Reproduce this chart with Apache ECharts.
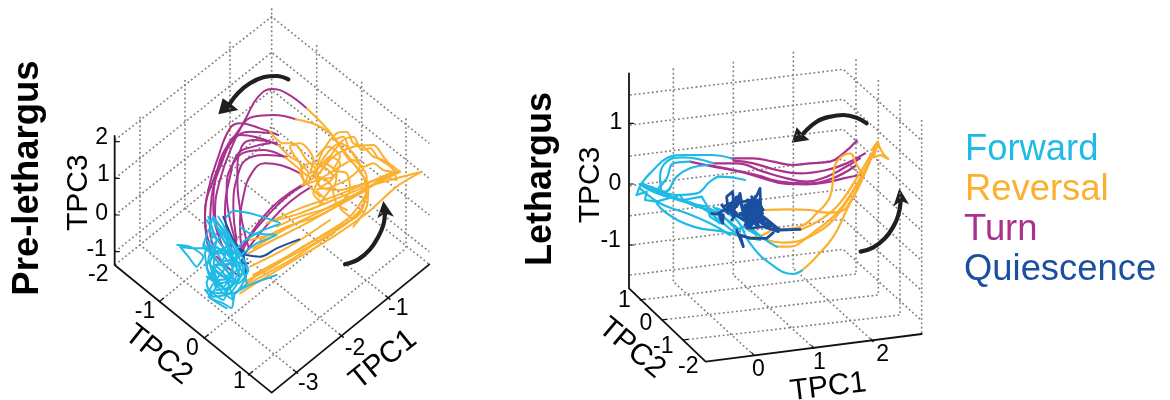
<!DOCTYPE html>
<html><head><meta charset="utf-8">
<style>html,body{margin:0;padding:0;background:#fff}#c{width:1170px;height:400px}</style>
<script src="https://cdn.jsdelivr.net/npm/echarts@6/dist/echarts.min.js"></script>
</head><body><div id="c"></div>
<script>
const FORWARD='#1fbbe6',REVERSAL='#fbb02f',TURN='#a9328e',QUIESCENCE='#1b4fa0',INK='#1f1f1f',GRIDC='#7d7d7d';

// ---------- Pre-lethargus panel: values ----------
const preAxes=[[[344,408],[344,795],[815,1178],[1288,793]]];
const preTicks=[[[344,425],[358,425]],[[344,535],[358,535]],[[344,645],[358,645]],[[344,755],[358,755]],
 [[478,905],[490,895]],[[612,1015],[624,1005]],[[745,1125],[757,1115]],
 [[1170,898],[1158,888]],[[1030,1012],[1018,1002]],[[893,1120],[881,1110]]];
const preGrid=[
 [[345,420],[815,50],[1288,430]],[[345,535],[815,157],[1288,535]],[[345,645],[815,270],[1288,645]],
 [[345,755],[815,380],[1288,755]],[[345,795],[815,415],[1288,793]],
 [[420,350],[420,735]],[[555,240],[555,625]],[[690,125],[690,515]],[[815,25],[815,415]],
 [[950,135],[950,520]],[[1085,245],[1085,630]],[[1218,355],[1218,745]],
 [[478,905],[950,520]],[[612,1015],[1085,630]],[[745,1125],[1218,745]],
 [[1170,898],[690,515]],[[1030,1012],[555,625]],[[893,1120],[420,735]]];
const preTurn=[
 [[920,325],[860,280],[815,267],[775,290],[740,350],[700,430],[660,540],[645,640],[660,710]],
 [[888,358],[820,345],[760,350],[720,385],[680,450],[640,540],[615,640],[620,720],[640,770]],
 [[835,405],[780,385],[720,370],[690,385],[655,470],[625,570],[615,660],[635,750]],
 [[835,435],[770,412],[720,405],[680,440],[650,520],[640,620],[660,720],[690,770]],
 [[855,472],[790,450],[740,455],[700,490],[680,560],[690,660],[720,760]],
 [[900,520],[840,495],[795,490],[755,520],[730,590],[720,680],[725,750]],
 [[830,430],[760,420],[725,440],[712,520],[722,640],[745,740]],
 [[815,400],[750,395],[700,420],[665,490],[635,590],[630,690],[650,760]],
 [[810,430],[760,440],[715,460],[690,530],[675,640],[695,740]],
 [[860,470],[800,465],[745,475],[715,520],[700,620],[710,720]],
 [[920,550],[860,590],[800,650],[750,710],[725,760]],
 [[935,560],[870,605],[810,665],[760,725],[730,770]],
 [[905,555],[840,600],[790,650],[740,720],[720,750]],
 [[650,770],[680,800],[720,830]]];
const preReversal=[
 [[920,325],[980,385],[1030,450],[1075,510],[1105,560],[1100,620],[1060,680]],
 [[888,358],[950,375],[1000,410],[1040,470],[1085,520],[1100,580],[1075,640],[1020,680]],
 [[950,500],[970,450],[1010,400],[1040,395],[1060,430],[1090,440],[1120,470],[1150,480],[1200,515]],
 [[950,530],[1000,470],[1060,440],[1120,435],[1150,470],[1180,510],[1190,540],[1160,535],[1110,560]],
 [[960,520],[990,470],[1030,420],[1060,410],[1085,450],[1110,445],[1135,475],[1165,495],[1195,520]],
 [[810,395],[850,430],[880,430],[920,480],[950,510],[960,560],[1000,530],[970,500],[930,490],[900,520],[930,560],[960,590]],
 [[835,435],[870,470],[900,490],[915,550],[950,530],[990,550],[1010,610],[1040,630]],
 [[855,472],[890,500],[930,530],[970,490],[1010,520],[1000,560],[950,570],[980,600]],
 [[915,550],[925,520],[900,490],[870,440],[900,430],[940,480],[930,520],[960,500],[990,470],[1020,490],[1000,530],[960,540],[940,580],[970,610]],
 [[905,555],[940,545],[980,525],[1020,500],[1060,480],[1090,500],[1120,490],[1150,510],[1175,515]],
 [[960,610],[1000,560],[1040,540],[1080,500],[1060,460],[1020,430],[990,450],[960,490]],
 [[1000,420],[1030,410],[1045,440],[1070,480],[1100,530],[1098,590],[1070,650]],
 [[950,470],[985,440],[1020,470],[1000,510],[1040,520],[1050,570],[1020,620],[1050,650]],
 [[1200,515],[1170,520],[1110,545],[1060,560],[1020,570],[960,560],[945,520]],
 [[830,660],[900,640],[1000,600],[1100,560],[1265,515]],
 [[760,745],[850,690],[950,640],[1050,590],[1150,540],[1200,515]],
 [[745,760],[820,720],[900,680],[1000,625],[1100,570]],
 [[720,880],[800,830],[900,770],[1000,710],[1100,640],[1190,560],[1265,515]],
 [[735,845],[820,800],[900,745],[1000,690],[1080,640],[1100,560]],
 [[760,825],[860,770],[960,710],[1050,650],[1100,580]],
 [[800,670],[900,625],[1000,590],[1090,555],[1200,515]],
 [[830,680],[900,650],[980,625],[1060,590],[1130,550],[1200,515]],
 [[720,870],[790,810],[870,770],[960,720],[1040,670],[1090,620]],
 [[730,860],[810,815],[880,775],[940,735],[1000,700]],
 [[750,800],[830,760],[900,720],[990,660]],
 [[780,720],[860,680],[950,650],[1040,600]],
 [[750,720],[830,700]]];
const preQuiescence=[
 [[740,765],[780,770],[830,745],[898,718]],
 [[670,650],[700,720],[730,770],[738,830]],
 [[715,745],[735,760],[725,785],[745,790]]];
const preForward=[
 [[532,735],[570,740],[610,770],[590,800],[565,770],[540,740],[580,745],[625,745],[660,710]],
 [[625,650],[640,700],[615,760],[625,820],[650,860],[625,890],[670,910],[695,925],[705,880],[740,850],[720,780],[700,740],[660,680],[640,650],[630,690],[660,730],[700,780],[735,800],[700,850],[650,800],[620,850],[640,890],[690,880],[720,830],[680,760],[640,740],[625,780],[670,830],[710,810],[680,720],[650,680]],
 [[680,650],[700,632],[750,640],[800,655],[840,670],[790,690],[730,725],[700,760]],
 [[720,680],[750,700],[830,705],[770,730],[730,760],[690,790],[640,800],[660,850],[700,840]],
 [[700,880],[760,850],[830,825]],
 [[610,730],[650,780],[690,830],[670,900],[630,870],[680,800],[720,760],[660,760],[620,720]],
 [[640,660],[670,720],[710,770],[700,800],[650,740],[640,830],[680,870],[730,820]],
 [[620,660],[650,720],[630,790],[660,870],[700,900],[680,840],[640,800],[690,780],[735,830],[705,880],[660,880],[615,870],[640,900],[680,925]],
 [[640,655],[680,700],[720,760],[745,810],[715,850],[680,810],[650,760],[620,800],[650,840],[700,830],[690,760],[660,700]],
 [[655,650],[690,720],[660,790],[630,760],[670,750],[720,800],[690,860],[650,870],[640,820],[680,880]],
 [[625,690],[610,740],[640,760],[680,740],[700,790],[670,860],[620,830]]];
const preArrows=[[[865,238],[830,228],[790,232],[750,250],[715,278],[690,310]],[[1035,793],[1075,778],[1110,748],[1135,710],[1150,675],[1155,640]]];
const preHeads=[[[655,343],[668,295],[693,312],[715,330]],[[1150,603],[1182,650],[1155,640],[1132,655]]];
const preTexts=[
 ['2',305,412,23,0],['1',310,525,23,0],['0',305,640,23,0],['-1',290,750,23,0],['-2',295,825,23,0],
 ['-1',435,935,23,0],['0',577,1045,23,0],['1',718,1145,23,0],
 ['-1',1195,925,23,0],['-2',1065,1045,23,0],['-3',925,1150,23,0],
 ['TPC3',235,578,30,90],['TPC2',475,1065,30,-39],['TPC1',1150,1080,30,39]];

// ---------- Lethargus panel ----------
const letAxes=[[[357,70],[357,715],[587,935],[1235,852]]];
const letTicks=[[[357,220],[371,220]],[[357,402],[371,402]],[[357,585],[371,585]],
 [[390,750],[404,747]],[[455,810],[469,808]],[[520,870],[534,868]],
 [[732,916],[725,908]],[[912,895],[905,887]],[[1090,875],[1083,867]]];
const letGrid=[
 [[360,135],[1000,58],[1235,272]],[[360,225],[1000,148],[1235,362]],[[360,318],[1000,238],[1235,452]],
 [[360,407],[1000,328],[1235,542]],[[360,497],[1000,418],[1235,632]],[[360,585],[1000,508],[1235,722]],
 [[360,675],[1000,598],[1235,812]],
 [[490,55],[490,695]],[[670,35],[670,675]],[[850,5],[850,655]],
 [[1038,28],[1038,672]],[[1105,90],[1105,735]],[[1170,150],[1170,795]],[[1235,210],[1235,855]],
 [[390,750],[1038,672]],[[455,810],[1105,735]],[[520,870],[1170,795]],
 [[732,916],[490,695]],[[912,895],[670,675]],[[1090,875],[850,655]]];
const letTurn=[
 [[1040,272],[1000,310],[960,335],[900,340],[850,345],[790,335],[730,325],[665,325]],
 [[1065,310],[1010,340],[950,360],[870,370],[800,360],[730,340],[670,332]],
 [[1050,325],[1000,355],[950,380],[890,395],[830,385],[760,365],[680,340],[610,340]],
 [[1050,375],[1000,385],[960,395],[890,403],[830,402],[760,385],[690,365],[610,350],[540,335]],
 [[1040,345],[960,388],[880,400],[810,395],[740,375],[670,360],[595,345]]];
const letReversal=[
 [[875,662],[910,630],[970,560],[1010,480],[1050,400],[1080,330],[1103,275]],
 [[800,590],[840,590],[890,565],[960,520],[1020,440],[1060,370],[1095,300]],
 [[770,570],[820,578],[860,575],[920,540],[980,490],[1030,420],[1075,340],[1100,285]],
 [[760,480],[840,478],[900,480],[950,488],[990,485],[1030,440],[1060,380],[1090,310]],
 [[810,538],[870,530],[920,490],[960,440],[970,380],[975,345],[1020,310],[1040,345],[1060,375]],
 [[870,540],[930,510],[985,465],[1040,385],[1085,310]],
 [[670,555],[720,562],[770,550],[790,530]]];
const letReversalTip=[
 [[1103,275],[1110,295],[1120,312],[1135,327],[1112,315],[1090,322],[1100,292],[1103,275],[1085,300]]];
const letForward=[
 [[665,325],[600,315],[520,315],[470,325],[430,360],[395,400],[380,435]],
 [[610,340],[520,322],[470,335],[450,385],[455,430]],
 [[540,335],[490,340],[470,385],[440,420]],
 [[705,390],[630,380],[600,395],[560,430],[500,435],[440,420],[395,400]],
 [[595,345],[540,355],[500,380],[465,425],[420,410],[390,402]],
 [[395,405],[440,430],[500,445],[570,470],[640,520],[680,550],[750,570]],
 [[390,415],[420,440],[460,465],[530,490],[600,520],[660,555]],
 [[440,460],[470,490],[550,530],[640,545],[700,560]],
 [[620,475],[680,510],[720,580],[780,640],[850,672],[875,662]],
 [[720,530],[760,565],[800,590]]];
const letForwardJag=[
 [[380,435],[410,425],[405,450],[440,455],[510,435],[520,450],[575,440],[590,465],[600,500],[630,520],[600,480],[560,470],[500,445],[455,430],[395,405]],
 [[610,470],[650,510],[680,540],[700,530],[740,555],[700,510],[660,490]],
 [[400,410],[470,440],[540,460],[590,470],[640,500],[690,540]]];
const letQuiescence=[
 [[635,465],[655,490],[650,440],[668,425],[672,480],[690,430],[698,475],[705,500],[715,450],[725,520],[735,440],[745,530],[725,470],[750,415],[752,470],[760,480],[720,510],[745,450],[710,530],[700,470],[755,520],[780,530],[730,490],[770,510],[805,545],[760,530],[720,535],[740,480],[690,490],[715,515],[700,480],[745,500],[725,440],[735,510],[710,470],[760,500],[785,520],[810,540],[870,538]],
 [[720,460],[750,490],[705,465],[742,470],[715,495],[755,470],[722,530],[732,455],[748,510],[712,480],[738,525],[726,480],[758,490],[708,510],[744,460]],
 [[700,455],[730,450],[715,475],[745,480],[705,490],[750,500],[720,500],[740,520],[710,520],[735,470],[725,500],[755,505],[700,500],[735,490],[718,465],[748,475]],
 [[712,450],[740,462],[708,478],[752,485],[715,505],[745,515],[722,488],[758,478],[705,525],[735,500],[718,522],[750,455],[728,510],[700,485],[742,495],[712,535]],
 [[640,470],[660,460],[680,470],[690,450],[700,490],[670,500],[655,470],[680,440],[660,480],[700,510]],
 [[605,490],[640,495],[638,520],[625,490],[660,470],[680,490],[665,510]],
 [[680,540],[700,590],[690,555],[720,565],[770,565],[790,548]]];
const letArrows=[[[1070,220],[1040,203],[1000,195],[960,200],[920,215],[880,250]],[[1052,605],[1090,592],[1125,565],[1150,530],[1165,495],[1172,455]]];
const letHeads=[[[845,278],[860,232],[878,252],[898,270]],[[1168,415],[1197,463],[1172,452],[1150,470]]];
const letTexts=[
 ['1',318,218,23,0],['0',315,400,23,0],['-1',302,573,23,0],
 ['1',343,752,23,0],['0',408,820,23,0],['-1',460,890,23,0],['-2',535,950,23,0],
 ['0',745,960,23,0],['1',928,938,23,0],['2',1118,915,23,0],
 ['TPC3',242,405,30,90],['TPC2',365,895,30,-40],['TPC1',955,1012,30,7]];

// ---------- Titles and legend, in whole-figure pixels ----------
const legendNames=['Forward','Reversal','Turn','Quiescence'];
const legendColors=[FORWARD,REVERSAL,TURN,QUIESCENCE];
const legendSize=36.4;
const legendPos=[[965,150],[965,190],[964,230],[964,270]];

function lines(list,g,color,width,smooth,extra){
 return list.map(d=>({type:'line',xAxisIndex:g,yAxisIndex:g,data:d,symbol:'none',smooth:smooth,silent:true,clip:false,
  lineStyle:Object.assign({color:color,width:width,cap:'round',join:'round'},extra||{})}));
}
function heads(list,g){
 return list.map(h=>({type:'custom',xAxisIndex:g,yAxisIndex:g,silent:true,clip:false,data:[h[0]],
  renderItem:(p,api)=>({type:'polygon',shape:{points:h.map(q=>api.coord(q))},style:{fill:INK}})}));
}
function texts(list,g){
 return [{type:'scatter',xAxisIndex:g,yAxisIndex:g,symbolSize:0,silent:true,clip:false,itemStyle:{opacity:1},
  data:list.map(t=>({value:[t[1],t[2]],label:{show:true,position:'inside',formatter:t[0],fontSize:t[3],rotate:t[4],opacity:1,
   color:'#000',fontFamily:'Liberation Sans',align:'center',verticalAlign:'middle'}}))}];
}
const dotted={type:[1.8,2.6],cap:'butt'};
const series=[].concat(
 lines(preGrid,0,GRIDC,1.6,false,dotted),
 lines(letGrid,1,GRIDC,1.6,false,dotted),
 lines(preAxes,0,'#111',1.8,false),lines(preTicks,0,'#111',1.2,false),
 lines(letAxes,1,'#111',1.8,false),lines(letTicks,1,'#111',1.2,false),
 lines(preTurn,0,TURN,2,0.45),
 lines(preReversal,0,REVERSAL,2,0.3),
 lines(preQuiescence,0,QUIESCENCE,2,0.4),
 lines(preForward,0,FORWARD,2,0.2),
 lines(letTurn,1,TURN,2.2,0.45),
 lines(letReversal,1,REVERSAL,2.2,0.45),
 lines(letReversalTip,1,REVERSAL,2.2,false),
 lines(letForward,1,FORWARD,2.2,0.45),
 lines(letForwardJag,1,FORWARD,2.2,false),
 lines(letQuiescence,1,QUIESCENCE,2.8,false),
 lines(preArrows,0,INK,4.2,0.4),lines(letArrows,1,INK,4.2,0.4),
 heads(preHeads,0),heads(letHeads,1),
 texts(preTexts,0),texts(letTexts,1));

const chart=echarts.init(document.getElementById('c'),null,{renderer:'canvas'});
chart.setOption({
 animation:false,backgroundColor:'#fff',
 grid:[{left:0,top:0,width:450,height:400},{left:510,top:50,width:430,height:350}],
 xAxis:[{type:'value',show:false,min:0,max:1350,gridIndex:0},{type:'value',show:false,min:0,max:1290,gridIndex:1}],
 yAxis:[{type:'value',show:false,min:0,max:1200,inverse:true,gridIndex:0},{type:'value',show:false,min:0,max:1050,inverse:true,gridIndex:1}],
 series:series,
 graphic:[
  {type:'text',x:28,y:178,rotation:Math.PI/2,style:{text:'Pre-lethargus',font:'bold 36.5px "Liberation Sans"',fill:'#000',align:'center',verticalAlign:'middle'}},
  {type:'text',x:541,y:179,rotation:Math.PI/2,style:{text:'Lethargus',font:'bold 36px "Liberation Sans"',fill:'#000',align:'center',verticalAlign:'middle'}}
 ].concat(legendNames.map((n,i)=>({type:'text',x:legendPos[i][0],y:legendPos[i][1],style:{text:n,font:legendSize+'px "Liberation Sans"',fill:legendColors[i],align:'left',verticalAlign:'middle'}})))
});
</script></body></html>
